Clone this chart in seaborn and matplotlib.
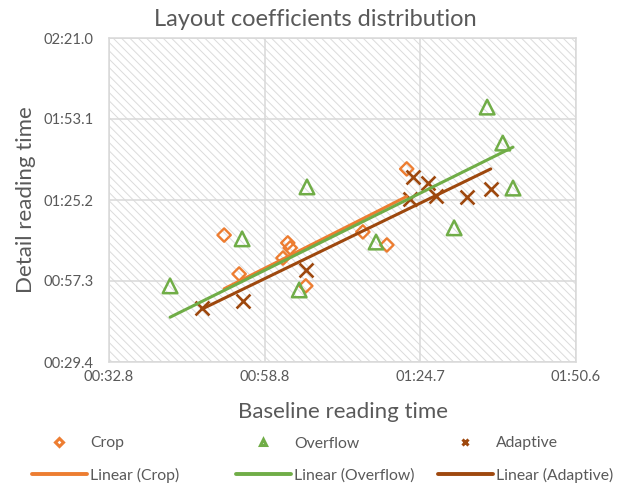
import matplotlib
matplotlib.use("Agg")
import matplotlib.pyplot as plt
from matplotlib.patches import Rectangle
from matplotlib.lines import Line2D
from matplotlib.ticker import FuncFormatter, FixedLocator
import seaborn as sns

# Reading times in seconds
crop_baseline = [52.0, 54.5, 61.8, 62.6, 63.0, 65.6, 75.1, 79.1, 82.4]
crop_detail = [73.1, 59.7, 65.2, 70.4, 68.7, 55.6, 74.2, 69.7, 95.9]
overflow_baseline = [43.0, 55.0, 64.5, 65.8, 77.3, 90.3, 95.8, 98.4, 100.1]
overflow_detail = [55.6, 71.8, 54.2, 89.7, 70.7, 75.6, 117.2, 104.8, 89.3]
adaptive_baseline = [48.3, 55.1, 65.6, 82.9, 83.4, 85.9, 87.3, 92.4, 96.4]
adaptive_detail = [48.0, 50.4, 61.1, 85.5, 93.1, 91.1, 86.6, 86.2, 89.0]

# Linear trend lines: detail time at the first and last baseline time of each series
crop_trend = [54.6, 86.4]
overflow_trend = [44.8, 103.4]
adaptive_trend = [47.6, 95.9]

# Axis ticks (seconds)
x_ticks = [32.832, 58.752, 84.672, 110.592]
y_ticks = [29.376, 57.2832, 85.1904, 113.0976, 141.0048]

series_names = ["Crop", "Overflow", "Adaptive"]

ORANGE = "#ED7D31"
GREEN = "#70AD47"
BROWN = "#9E480E"
TEXT = "#595959"
GRID = "#d9d9d9"

sns.set_theme(style="white")
plt.rcParams["font.family"] = ["Lato", "DejaVu Sans"]
plt.rcParams["hatch.linewidth"] = 0.7

W, H = 619, 487
fig = plt.figure(figsize=(W / 100, H / 100), dpi=100)
ax = fig.add_axes([109 / W, 1 - 362 / H, 467 / W, 324 / H])

# Hatched plot-area background
ax.add_patch(Rectangle((0, 0), 1, 1, transform=ax.transAxes, facecolor="white",
                       edgecolor="#dbdbdb", hatch="\\\\\\\\", linewidth=0, zorder=0))

# Markers
sns.scatterplot(x=crop_baseline, y=crop_detail, marker="D", s=46, facecolor="none",
                edgecolor=ORANGE, linewidth=1.7, ax=ax, zorder=3)
sns.scatterplot(x=overflow_baseline, y=overflow_detail, marker="^", s=110, facecolor="none",
                edgecolor=GREEN, linewidth=1.8, ax=ax, zorder=3)
sns.scatterplot(x=adaptive_baseline, y=adaptive_detail, marker="x", s=100, color=BROWN,
                linewidth=1.9, ax=ax, zorder=3)

# Linear trend lines spanning each series' baseline range
for xs, ys, c in [(crop_baseline, crop_trend, ORANGE),
                  (overflow_baseline, overflow_trend, GREEN),
                  (adaptive_baseline, adaptive_trend, BROWN)]:
    sns.lineplot(x=[min(xs), max(xs)], y=ys, color=c, linewidth=2.2, ax=ax, zorder=4)


def fmt_time(v, _pos=None):
    m = int(v // 60)
    s = v - 60 * m
    return f"{m:02d}:{s:04.1f}"


ax.set_xlim(x_ticks[0], x_ticks[-1])
ax.set_ylim(y_ticks[0], y_ticks[-1])
ax.xaxis.set_major_locator(FixedLocator(x_ticks))
ax.yaxis.set_major_locator(FixedLocator(y_ticks))
ax.xaxis.set_major_formatter(FuncFormatter(fmt_time))
ax.yaxis.set_major_formatter(FuncFormatter(fmt_time))
ax.tick_params(axis="both", length=0, labelsize=10.6, labelcolor=TEXT)
ax.tick_params(axis="x", pad=6)
ax.tick_params(axis="y", pad=11)

ax.grid(True, color=GRID, linewidth=1.1)
ax.set_axisbelow(True)
for sp in ax.spines.values():
    sp.set_visible(True)
    sp.set_color(GRID)
    sp.set_linewidth(1.1)

ax.set_xlabel("Baseline reading time", fontsize=16, color=TEXT)
ax.set_ylabel("Detail reading time", fontsize=16, color=TEXT)
ax.xaxis.set_label_coords(0.5, (362 - 412) / 324)
ax.xaxis.label.set_va("center")
ax.yaxis.set_label_coords((26 - 109) / 467, 0.5)
ax.yaxis.label.set_va("center")

fig.text(315 / W, 1 - 19 / H, "Layout coefficients distribution", ha="center", va="center",
         fontsize=17, color=TEXT)

# Legend: one column per series (marker row, trend-line row)
legend_specs = [
    ("D", 4.2, ORANGE, 32),
    ("^", 5.0, GREEN, 236),
    ("x", 4.6, BROWN, 438),
]
for name, (mk, ms, c, x0) in zip(series_names, legend_specs):
    handles = [
        Line2D([], [], linestyle="none", marker=mk, ms=ms, mfc="white", mec=c, mew=2.2),
        Line2D([], [], color=c, linewidth=2.8),
    ]
    fig.legend(handles=handles, labels=[name, f"Linear ({name})"], loc="center left",
               bbox_to_anchor=(x0 / W, 1 - 459.5 / H), frameon=False, borderpad=0,
               borderaxespad=0, handlelength=3.5, handletextpad=0.2, labelspacing=1.1,
               fontsize=11.3, labelcolor=TEXT)

fig.savefig("out.png", dpi=100)
